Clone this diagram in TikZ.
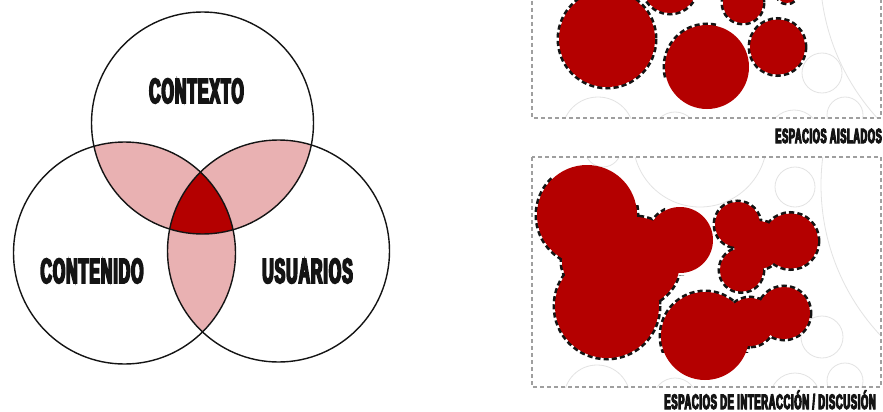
\documentclass[tikz,border=0pt]{standalone}
\usepackage{fontspec}
\newfontfamily\condfont[FakeStretch=0.45,FakeBold=5,LetterSpace=3]{Liberation Sans}
\definecolor{blobred}{RGB}{180,0,0}
\definecolor{blush}{RGB}{233,177,178}
\definecolor{ink}{RGB}{20,20,20}
\tikzset{
  vennline/.style={draw=ink,line width=1.4pt},
  frame/.style={draw=gray!75,line width=1.1pt,dash pattern=on 4pt off 3pt},
  ghost/.style={draw=gray!22,line width=0.8pt},
  rim/.style={draw=ink,line width=5pt,dash pattern=on 5pt off 3pt},
  blob/.style={fill=blobred},
  venntext/.style={font=\condfont\bfseries\fontsize{35}{35}\selectfont,text=ink,inner sep=0pt,anchor=base},
  caption/.style={font=\condfont\bfseries,text=ink,inner sep=0pt,anchor=base east}
}
\begin{document}
\begin{tikzpicture}[x=1pt,y=-1pt]
\useasboundingbox (0,0) rectangle (883,412);
\clip (0,0) rectangle (883,412);
\fill[white] (0,0) rectangle (883,412);

% ---------------- Venn diagram ----------------
\coordinate (ctx) at (202.5,123);
\coordinate (cnt) at (124.5,253);
\coordinate (usr) at (278.5,251);
\def\vr{111}
\begin{scope}
  \clip (ctx) circle (\vr);
  \fill[blush] (cnt) circle (\vr);
  \fill[blush] (usr) circle (\vr);
\end{scope}
\begin{scope}
  \clip (cnt) circle (\vr);
  \fill[blush] (usr) circle (\vr);
\end{scope}
\begin{scope}
  \clip (ctx) circle (\vr);
  \clip (cnt) circle (\vr);
  \fill[blobred] (usr) circle (\vr);
\end{scope}
\draw[vennline] (ctx) circle (\vr);
\draw[vennline] (cnt) circle (\vr);
\draw[vennline] (usr) circle (\vr);

\node[venntext] (lctx) at (196.5,103) {CONTEXTO};
\node[venntext] (lcnt) at (92,283) {CONTENIDO};
\node[venntext] (lusr) at (307.5,283) {USUARIOS};

% ---------------- upper panel: isolated spaces ----------------
\begin{scope}
  \clip (532,-120) rectangle (881,118);
  \draw[ghost] (822,73) circle (20);
  \draw[ghost] (845,115) circle (18);
  \draw[ghost] (598,133) circle (36);
  \draw[ghost] (675,134) circle (22);
  \draw[ghost] (794,136) circle (26);
  \draw[ghost] (1040,-30) circle (220);
\end{scope}
\draw[frame] (532,-20) -- (532,118) -- (881,118) -- (881,-20);

% dashed rims first, red discs on top
\draw[rim] (607,39) circle (48);
\draw[rim] (670,-14) circle (27);
\draw[rim] (743,3) circle (20);
\draw[rim] (777.5,47) circle (27.5);
\draw[rim] (787,-7) circle (10);
\draw[rim] (707,67) ++(-194:42) arc[start angle=-194,end angle=-76,radius=42];
\fill[blob] (607,39) circle (48);
\fill[blob] (670,-14) circle (27);
\fill[blob] (743,3) circle (20);
\fill[blob] (777.5,47) circle (27.5);
\fill[blob] (787,-7) circle (10);
\fill[blob] (707,67) circle (42);

\node[caption,font=\condfont\bfseries\fontsize{20.5}{21}\selectfont] (cap1) at (882,143) {ESPACIOS AISLADOS};

% ---------------- lower panel: interaction spaces ----------------
\begin{scope}
  \clip (532,157) rectangle (881,387);
  \draw[ghost] (700,140) circle (67);
  \draw[ghost] (603,149) circle (18);
  \draw[ghost] (795,187) circle (20);
  \draw[ghost] (822,337) circle (21);
  \draw[ghost] (597,398) circle (33);
  \draw[ghost] (675,400) circle (22);
  \draw[ghost] (795,398) circle (25);
  \draw[ghost] (845,381) circle (18);
  \draw[ghost] (1041,185) circle (220);
\end{scope}
\draw[frame] (532,157) rectangle (881,387);

% large merged blob
\begin{scope}
  \clip (520,140) -- (552,140) -- (552,205) -- (665,205) -- (665,275)
        -- (720,275) -- (720,400) -- (520,400) -- cycle;
  \draw[rim] (587,215) circle (50);
  \draw[rim] (680,240) circle (33);
  \draw[rim] (607,306) circle (52);
  \draw[rim] (635,262) circle (45);
  \draw[rim] (590,262) circle (28);
\end{scope}
% three-lobed blob
\draw[rim] (737.5,224.5) circle (22.5);
\draw[rim] (790.5,241) circle (27.5);
\draw[rim] (741.5,270) circle (21.5);
\draw[rim] (758,245) circle (24);
% two-lobed blob
\begin{scope}
  \clip (640,270) rectangle (830,352);
  \draw[rim] (705,336) circle (44);
  \draw[rim] (784,313) circle (26);
  \draw[rim] (750,322) circle (24);
\end{scope}

\fill[blob] (587,215) circle (50);
\fill[blob] (680,240) circle (33);
\fill[blob] (607,306) circle (52);
\fill[blob] (635,262) circle (45);
\fill[blob] (590,262) circle (28);
\fill[blob] (737.5,224.5) circle (22.5);
\fill[blob] (790.5,241) circle (27.5);
\fill[blob] (741.5,270) circle (21.5);
\fill[blob] (758,245) circle (24);
\fill[blob] (705,336) circle (44);
\fill[blob] (784,313) circle (26);
\fill[blob] (750,322) circle (24);

\node[caption,font=\condfont\bfseries\fontsize{21}{21}\selectfont] (cap2) at (876,409) {ESPACIOS DE INTERACCIÓN / DISCUSIÓN};
\end{tikzpicture}
\end{document}
